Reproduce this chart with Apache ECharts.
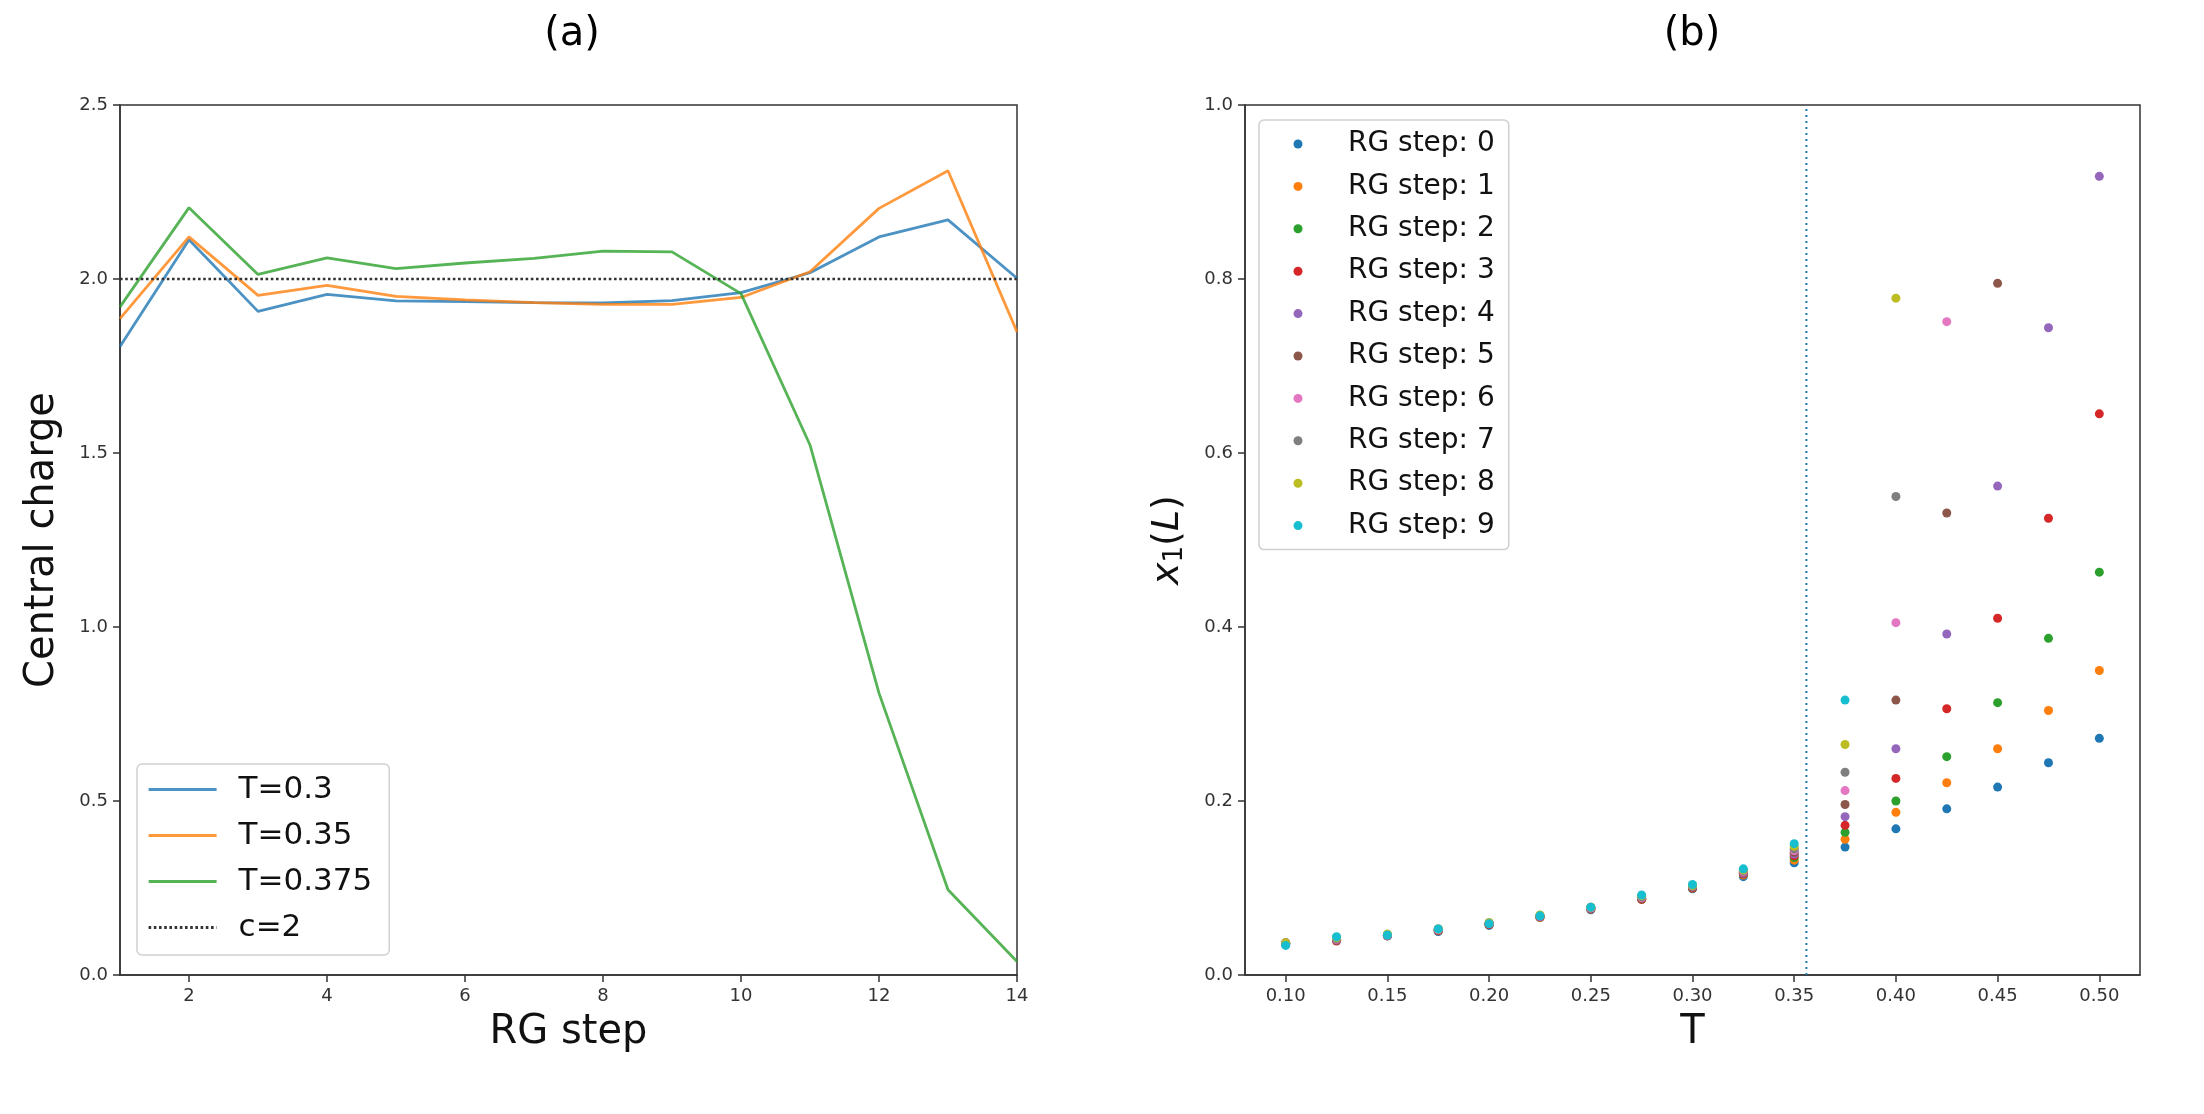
<!DOCTYPE html>
<html>
<head>
<meta charset="utf-8">
<title>Central charge / x1(L)</title>
<script src="https://cdn.jsdelivr.net/npm/echarts@6.0.0/dist/echarts.min.js"></script>
<style>
  html, body { margin: 0; padding: 0; background: #fff; }
  #main { width: 2204px; height: 1114px; }
</style>
</head>
<body>
<div id="main"></div>
<script>
// (a) central charge vs RG step
var rgSteps = [1, 2, 3, 4, 5, 6, 7, 8, 9, 10, 11, 12, 13, 14];
var cT030 = [1.806, 2.113, 1.907, 1.956, 1.937, 1.935, 1.932, 1.931, 1.938, 1.961, 2.018, 2.121, 2.170, 2.002];
var cT035 = [1.886, 2.121, 1.953, 1.982, 1.950, 1.940, 1.932, 1.927, 1.927, 1.947, 2.021, 2.203, 2.311, 1.848];
var cT0375 = [1.920, 2.205, 2.013, 2.061, 2.030, 2.046, 2.059, 2.080, 2.078, 1.958, 1.523, 0.810, 0.245, 0.039];
var xTicksA = [2, 4, 6, 8, 10, 12, 14];

// (b) x1(L) vs T for each RG step
var temps = [0.1, 0.125, 0.15, 0.175, 0.2, 0.225, 0.25, 0.275, 0.3, 0.325, 0.35, 0.375, 0.4, 0.425, 0.45, 0.475, 0.5];
var step0 = [0.035, 0.043, 0.045, 0.050, 0.057, 0.066, 0.075, 0.088, 0.099, 0.113, 0.129, 0.147, 0.168, 0.191, 0.216, 0.244, 0.272];
var step1 = [0.036, 0.041, 0.045, 0.051, 0.058, 0.066, 0.076, 0.087, 0.100, 0.115, 0.132, 0.156, 0.187, 0.221, 0.260, 0.304, 0.350];
var step2 = [0.036, 0.040, 0.045, 0.051, 0.058, 0.067, 0.076, 0.087, 0.100, 0.116, 0.135, 0.164, 0.200, 0.251, 0.313, 0.387, 0.463];
var step3 = [0.036, 0.039, 0.045, 0.051, 0.058, 0.067, 0.076, 0.087, 0.100, 0.116, 0.137, 0.172, 0.226, 0.306, 0.410, 0.525, 0.645];
var step4 = [0.036, 0.040, 0.045, 0.052, 0.059, 0.067, 0.077, 0.088, 0.101, 0.117, 0.139, 0.182, 0.260, 0.392, 0.562, 0.744, 0.918];
var step5 = [0.037, 0.040, 0.046, 0.052, 0.059, 0.068, 0.077, 0.088, 0.101, 0.118, 0.141, 0.196, 0.316, 0.531, 0.795, null, null];
var step6 = [0.037, 0.041, 0.046, 0.052, 0.059, 0.068, 0.077, 0.089, 0.102, 0.119, 0.143, 0.212, 0.405, 0.751, null, null, null];
var step7 = [0.037, 0.042, 0.046, 0.053, 0.060, 0.068, 0.078, 0.090, 0.102, 0.120, 0.145, 0.233, 0.550, null, null, null, null];
var step8 = [0.037, 0.043, 0.047, 0.053, 0.060, 0.069, 0.078, 0.091, 0.103, 0.121, 0.148, 0.265, 0.778, null, null, null, null];
var step9 = [0.034, 0.044, 0.046, 0.053, 0.059, 0.068, 0.078, 0.092, 0.104, 0.122, 0.151, 0.316, null, null, null, null, null];
var xTicksB = [0.10, 0.15, 0.20, 0.25, 0.30, 0.35, 0.40, 0.45, 0.50];
var tCritical = 0.356;

var tab10 = ['#1f77b4', '#ff7f0e', '#2ca02c', '#d62728', '#9467bd',
             '#8c564b', '#e377c2', '#7f7f7f', '#bcbd22', '#17becf'];
var font = 'DejaVu Sans';

var myChart = echarts.init(document.getElementById('main'));

function pairs(xs, ys) {
    var out = [];
    for (var i = 0; i < xs.length; i++) {
        if (ys[i] !== null) out.push([xs[i], ys[i]]);
    }
    return out;
}

function lineSeries(name, ys, color) {
    return {
        name: name,
        type: 'line',
        xAxisIndex: 0,
        yAxisIndex: 0,
        symbol: 'none',
        data: pairs(rgSteps, ys),
        lineStyle: { color: color, width: 2.8, opacity: 0.8 },
        itemStyle: { color: color, opacity: 0.8 }
    };
}

var stepSeries = [step0, step1, step2, step3, step4, step5, step6, step7, step8, step9];
var series = [
    lineSeries('T=0.3', cT030, tab10[0]),
    lineSeries('T=0.35', cT035, tab10[1]),
    lineSeries('T=0.375', cT0375, tab10[2]),
    {
        name: 'c=2',
        type: 'line',
        xAxisIndex: 0,
        yAxisIndex: 0,
        symbol: 'none',
        data: [[rgSteps[0], 2], [rgSteps[rgSteps.length - 1], 2]],
        lineStyle: { color: '#333', width: 2.6, type: [2.6, 2.6] },
        itemStyle: { color: '#333' }
    },
    {
        name: 'Tc',
        type: 'line',
        xAxisIndex: 1,
        yAxisIndex: 1,
        symbol: 'none',
        data: [[tCritical, 0], [tCritical, 1]],
        lineStyle: { color: tab10[0], width: 2, type: [2, 4] },
        z: 1
    }
];
stepSeries.forEach(function (ys, k) {
    series.push({
        name: 'RG step: ' + k,
        type: 'scatter',
        xAxisIndex: 1,
        yAxisIndex: 1,
        symbol: 'circle',
        symbolSize: 9,
        data: pairs(temps, ys),
        itemStyle: { color: tab10[k], opacity: 1 }
    });
});

var tickLabel = { fontFamily: font, fontSize: 18, color: '#333', margin: 12 };
var axisLineStyle = { show: true, lineStyle: { color: '#333', width: 1.5 } };
var tickStyle = { show: true, inside: false, length: 7, lineStyle: { color: '#333', width: 1.5 } };
var nameStyle = { fontFamily: font, fontSize: 40, color: '#111' };

myChart.setOption({
    animation: false,
    backgroundColor: '#fff',
    graphic: [
        { type: 'text', x: 572, y: 35, style: { text: '(a)', fontFamily: font, fontSize: 40, fill: '#000', align: 'center', verticalAlign: 'middle' } },
        { type: 'text', x: 1692, y: 35, style: { text: '(b)', fontFamily: font, fontSize: 40, fill: '#000', align: 'center', verticalAlign: 'middle' } }
    ],
    grid: [
        { left: 120, top: 105, width: 897, height: 870, show: true, borderColor: '#333', borderWidth: 1.5, backgroundColor: 'transparent' },
        { left: 1245, top: 105, width: 895, height: 870, show: true, borderColor: '#333', borderWidth: 1.5, backgroundColor: 'transparent' }
    ],
    legend: [
        {
            data: ['T=0.3', 'T=0.35', 'T=0.375', 'c=2'],
            orient: 'vertical',
            left: 137,
            top: 764,
            padding: [10, 17, 12, 10],
            itemWidth: 68,
            itemHeight: 14,
            itemGap: 15,
            selectedMode: false,
            itemStyle: { opacity: 0 },
            lineStyle: { width: 3.2 },
            backgroundColor: 'rgba(255,255,255,0.8)',
            borderColor: '#d0d0d0',
            borderWidth: 1.5,
            borderRadius: 5,
            textStyle: { fontFamily: font, fontSize: 31, lineHeight: 31, color: '#111', padding: [0, 0, 0, 17] }
        },
        {
            data: stepSeries.map(function (s, k) { return 'RG step: ' + k; }),
            orient: 'vertical',
            left: 1259,
            top: 120,
            padding: [10, 14, 10, 34.5],
            itemWidth: 9,
            itemHeight: 9,
            itemGap: 14.4,
            icon: 'circle',
            selectedMode: false,
            backgroundColor: 'rgba(255,255,255,0.8)',
            borderColor: '#d0d0d0',
            borderWidth: 1.5,
            borderRadius: 5,
            textStyle: { fontFamily: font, fontSize: 28, lineHeight: 28, color: '#111', padding: [0, 0, 0, 40.5] }
        }
    ],
    xAxis: [
        {
            gridIndex: 0,
            type: 'value',
            min: 1,
            max: 14,
            name: 'RG step',
            nameLocation: 'middle',
            nameGap: 38,
            nameTextStyle: nameStyle,
            axisLine: axisLineStyle,
            axisTick: Object.assign({ customValues: xTicksA }, tickStyle),
            axisLabel: Object.assign({ customValues: xTicksA }, tickLabel),
            splitLine: { show: false }
        },
        {
            gridIndex: 1,
            type: 'value',
            min: 0.08,
            max: 0.52,
            name: 'T',
            nameLocation: 'middle',
            nameGap: 38,
            nameTextStyle: nameStyle,
            axisLine: axisLineStyle,
            axisTick: Object.assign({ customValues: xTicksB }, tickStyle),
            axisLabel: Object.assign({
                customValues: xTicksB,
                formatter: function (v) { return v.toFixed(2); }
            }, tickLabel),
            splitLine: { show: false }
        }
    ],
    yAxis: [
        {
            gridIndex: 0,
            type: 'value',
            min: 0,
            max: 2.5,
            interval: 0.5,
            name: 'Central charge',
            nameLocation: 'middle',
            nameGap: 57,
            nameTextStyle: nameStyle,
            axisLine: axisLineStyle,
            axisTick: tickStyle,
            axisLabel: Object.assign({ formatter: function (v) { return v.toFixed(1); } }, tickLabel),
            splitLine: { show: false }
        },
        {
            gridIndex: 1,
            type: 'value',
            min: 0,
            max: 1,
            interval: 0.2,
            name: '{i|x}{s|1}{n|(}{i|L}{n|)}',
            nameLocation: 'middle',
            nameGap: 57,
            nameTextStyle: {
                fontFamily: font,
                fontSize: 38,
                color: '#111',
                rich: {
                    i: { fontFamily: font, fontSize: 38, fontStyle: 'italic', color: '#111' },
                    n: { fontFamily: font, fontSize: 38, color: '#111' },
                    s: { fontFamily: font, fontSize: 26, color: '#111', padding: [14, 0, 0, 0] }
                }
            },
            axisLine: axisLineStyle,
            axisTick: tickStyle,
            axisLabel: Object.assign({ formatter: function (v) { return v.toFixed(1); } }, tickLabel),
            splitLine: { show: false }
        }
    ],
    series: series
});
</script>
</body>
</html>
